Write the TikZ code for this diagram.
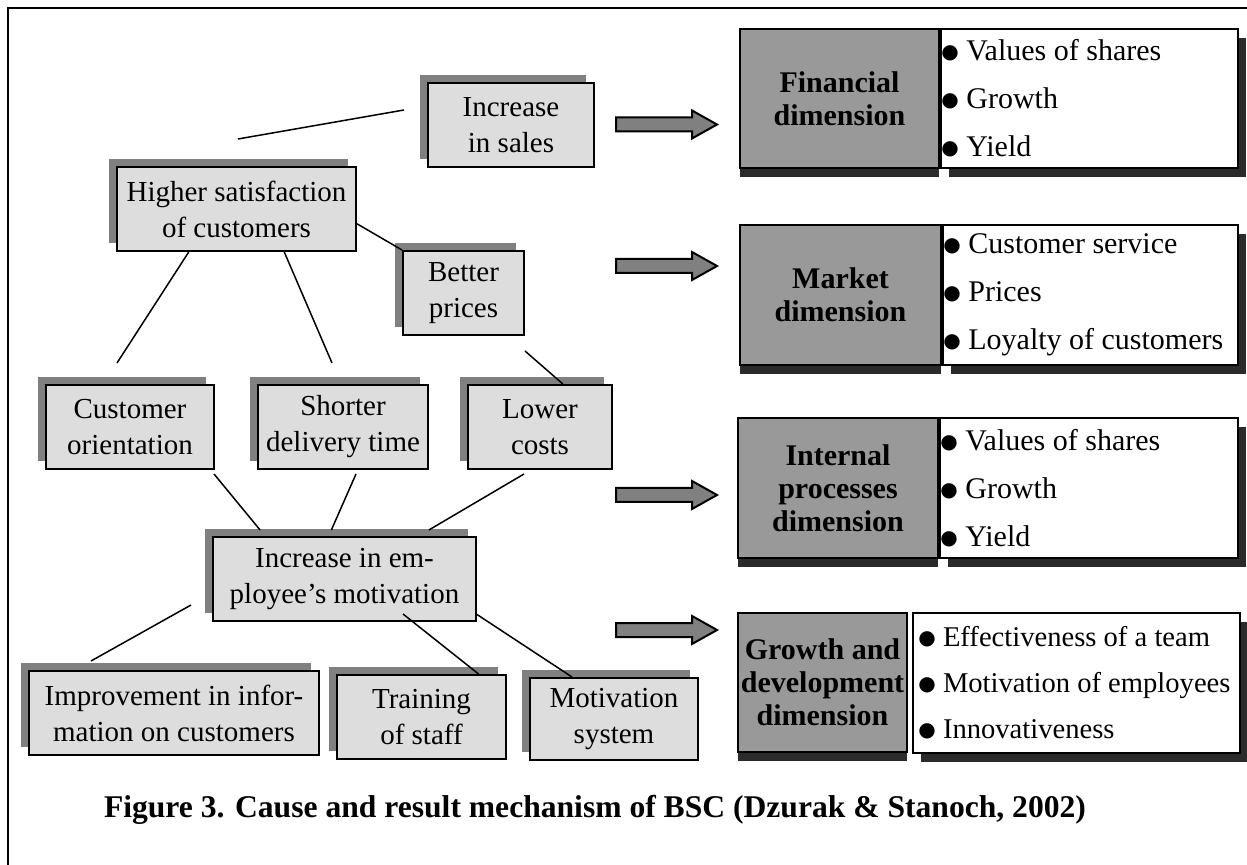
\documentclass[tikz,border=0pt]{standalone}
\usepackage{fontspec}
\setmainfont{Liberation Serif}
\newfontfamily\symfont{DejaVu Sans}
\usetikzlibrary{positioning, shadows}
\definecolor{boxgray}{HTML}{DDDDDD}
\definecolor{shadegray}{HTML}{808080}
\definecolor{dimfill}{HTML}{999999}
\definecolor{darkshade}{HTML}{2B2B2B}
\newcommand{\lstbul}{\leavevmode\raise1pt\hbox{\symfont\fontsize{10}{10}\selectfont ●}\ }

\begin{document}
\begin{tikzpicture}[x=0.5pt, y=-0.5pt,
  cause/.style={rectangle, draw=black, line width=1pt, fill=boxgray,
              align=center, inner sep=0pt, minimum height=42pt,
              font=\fontsize{14.5}{18}\selectfont,
              general shadow={fill=shadegray, shadow xshift=-4pt, shadow yshift=4pt}},
  dim/.style={rectangle, draw=black, line width=1pt, fill=dimfill,
              align=center, inner sep=0pt, minimum height=70pt,
              font=\fontsize{15}{16.5}\selectfont\bfseries,
              general shadow={fill=darkshade, shadow xshift=0pt, shadow yshift=-4.5pt}},
  lst/.style={rectangle, draw=black, line width=1pt, fill=white,
              inner sep=0pt, minimum height=70pt,
              general shadow={fill=darkshade, shadow xshift=4pt, shadow yshift=-4.5pt}},
  lsttext/.style={anchor=west, align=left, inner xsep=0.5pt,
              font=\fontsize{15}{24}\selectfont},
  conn/.style={line width=0.75pt},
  blockarr/.style={draw=black, line width=1pt, fill=shadegray},
]
\useasboundingbox (0,0) rectangle (1247,865);
%% --- outer frame ---
\draw[line width=1pt] (8,865) -- (8,8) -- (1247,8);

%% --- cause tree ---
\node[cause, minimum width=83pt] (isales) at (511,125) {Increase\\in sales};
\node[cause, minimum width=119.5pt] (hsat) at (236.5,209) {Higher satisfaction\\of customers};
\node[cause, minimum width=60.5pt] (bprice) at (463.5,293) {Better\\prices};
\node[cause, minimum width=84pt] (corient) at (130,427) {Customer\\orientation};
\node[cause, minimum width=85pt] (sdeliv) at (343,427) {Shorter\\delivery time};
\node[cause, minimum width=72pt] (lcost) at (540,427) {Lower\\costs};
\node[cause, minimum width=131.5pt] (emot) at (344.5,579) {Increase in em-\\ployee's motivation};
\node[cause, minimum width=145pt] (iinfo) at (174,713) {Improvement in infor-\\mation on customers};
\node[cause, minimum width=84.5pt] (training) at (421.5,717) {Training\\of staff};
\node[cause, minimum width=84pt, minimum height=41pt] (motiv) at (614,719) {Motivation\\system};

%% --- links ---
\coordinate (hs1) at (238,139);
\coordinate (is1) at (404,110);
\draw[conn] (hs1) -- (is1);
\draw[conn] (hsat.-7) -- (bprice.north west);
\coordinate (co1) at (117,363);
\draw[conn] (hsat.222) -- (co1);
\coordinate (sd1) at (332,363);
\draw[conn] (hsat.-42) -- (sd1);
\coordinate (bp1) at (525,351);
\draw[conn] (bp1) -- (lcost.62);
\coordinate (co2) at (214,474);
\draw[conn] (co2) -- ([yshift=3pt]emot.153);
\coordinate (sd2) at (356,474);
\draw[conn] (sd2) -- ([yshift=3pt]emot.107);
\coordinate (lc1) at (524,474);
\draw[conn] (lc1) -- ([yshift=3pt]emot.27);
\coordinate (em1) at (191,605);
\coordinate (ii1) at (91,661);
\draw[conn] (em1) -- (ii1);
\coordinate (em2) at (403,614);
\draw[conn] (em2) -- (training.37);
\draw[conn] (emot.-15) -- (motiv.135);

%% --- block arrows ---
\draw[blockarr] (616,117.5) -- (692,117.5) -- (692,110.5) -- (717,124.5) -- (692,138.5) -- (692,131.5) -- (616,131.5) -- cycle;
\draw[blockarr] (616,259) -- (692,259) -- (692,252) -- (717,266) -- (692,280) -- (692,273) -- (616,273) -- cycle;
\draw[blockarr] (616,488) -- (692,488) -- (692,481) -- (717,495) -- (692,509) -- (692,502) -- (616,502) -- cycle;
\draw[blockarr] (616,623) -- (692,623) -- (692,616) -- (717,630) -- (692,644) -- (692,637) -- (616,637) -- cycle;

%% --- dimensions ---
\node[dim, minimum width=99.5pt, minimum height=69.5pt] (fin) at (839.5,98.5) {Financial\\dimension};
\node[lst, minimum width=148.5pt, minimum height=69.5pt, right=0pt of fin] (finl) {};
\node[lsttext] (fint) at (finl.west) {\lstbul Values of shares\\\lstbul Growth\\\lstbul Yield};

\node[dim, minimum width=100.5pt] (mkt) at (840.5,295) {Market\\dimension};
\node[lst, minimum width=147.5pt, right=0pt of mkt] (mktl) {};
\node[lsttext] (mktt) at (mktl.west) {\lstbul Customer service\\\lstbul Prices\\\lstbul Loyalty of customers};

\node[dim, minimum width=100pt] (int) at (838,488) {Internal\\processes\\dimension};
\node[lst, minimum width=149pt, right=0pt of int] (intl) {};
\node[lsttext] (intt) at (intl.west) {\lstbul Values of shares\\\lstbul Growth\\\lstbul Yield};

\node[dim, minimum width=84.5pt, minimum height=69.5pt] (grw) at (822.5,682.5) {Growth and\\development\\dimension};
\node[lst, minimum width=163.5pt, right=2pt of grw] (grwl) {};
\node[lsttext, inner xsep=3pt, font=\fontsize{14.3}{23}\selectfont] (grwt) at (grwl.west)
  {\lstbul Effectiveness of a team\\\lstbul Motivation of employees\\\lstbul Innovativeness};

%% --- caption ---
\node[font=\fontsize{15.8}{18}\selectfont\bfseries] (cap) at (595,810)
  {Figure 3. Cause and result mechanism of BSC (Dzurak \& Stanoch, 2002)};
\end{tikzpicture}
\end{document}
